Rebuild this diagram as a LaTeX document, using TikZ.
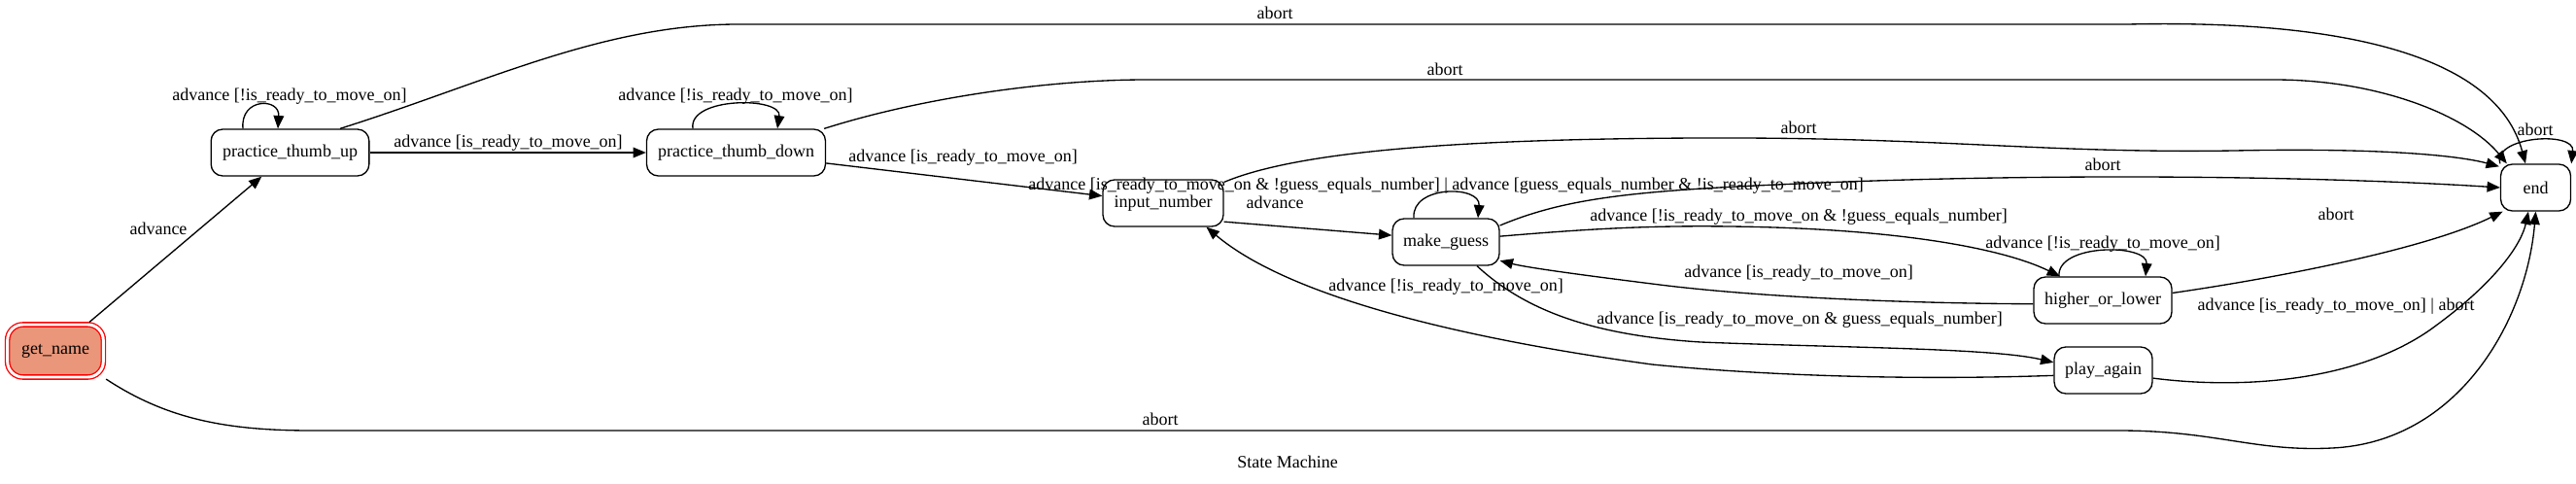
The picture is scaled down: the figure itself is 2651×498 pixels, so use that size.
\documentclass[tikz,border=0pt]{standalone}
\usepackage{fontspec}
\setmainfont{Liberation Serif}
\usetikzlibrary{arrows.meta,calc}

\newcommand\smfont{\fontsize{13.5}{16}\selectfont}

\tikzset{
  state/.style={draw, line width=1pt, rounded corners=9pt, minimum height=36pt, inner sep=2pt, font=\smfont},
  startstate/.style={state, draw=red, double=white, double distance=2.2pt, fill={rgb,255:red,233;green,150;blue,122},
    minimum width=74pt, minimum height=40.5pt, rounded corners=12pt},
  edge/.style={line width=1pt, -{Triangle[length=10pt,width=8pt]}},
  lbl/.style={font=\smfont, inner sep=0pt, text height=9.5pt, text depth=3pt}
}

\begin{document}
\begin{tikzpicture}[x=0.75pt,y=-0.75pt]
\useasboundingbox (0,0) rectangle (2651,498);

% states
\node[startstate] (getname) at (57,361) {get\_name};
\node[state, minimum width=122pt] (thumbup) at (298.5,157) {practice\_thumb\_up};
\node[state, minimum width=138pt] (thumbdown) at (757.5,157) {practice\_thumb\_down};
\node[state, minimum width=93pt] (inputnum) at (1197,209) {input\_number};
\node[state, minimum width=82.5pt] (makeguess) at (1488,249) {make\_guess};
\node[state, minimum width=106.5pt] (highlow) at (2164,309) {higher\_or\_lower};
\node[state, minimum width=75.75pt] (playagain) at (2164.5,381) {play\_again};
\node[state, minimum width=54pt] (endst) at (2609.5,193) {end};

% get_name
\draw[edge, shorten <=2pt] (getname) -- (thumbup);
\draw[edge, shorten <=2pt] (getname.south east) .. controls (170,430) and (230,443) .. (320,443) -- (2180,443)
  .. controls (2280,443) and (2320,465) .. (2400,461) .. controls (2530,455) and (2600,330) .. (endst.south);

% practice_thumb_up
\draw[edge] ($(thumbup.north)+(-48.5,0)$) .. controls +(-3,-32) and +(2,-32) .. ($(thumbup.north)+(-12.5,0)$);
\draw[edge] (thumbup) -- (thumbdown);
\draw[edge] ($(thumbup.north)+(51.5,0)$) .. controls (500,85) and (620,25) .. (760,25) -- (2190,25)
  .. controls (2420,20) and (2570,60) .. ($(endst.north)+(-10.5,0)$);

% practice_thumb_down
\draw[edge] ($(thumbdown.north)+(-44.5,0)$) .. controls +(-5,-33) and +(5,-33) .. ($(thumbdown.north)+(42.5,0)$);
\draw[edge] (thumbdown) -- (inputnum);
\draw[edge] ($(thumbdown.north east)+(-2,0)$) .. controls (950,100) and (1080,82) .. (1180,82) -- (2340,82)
  .. controls (2450,82) and (2540,120) .. ($(endst.north west)+(7,0)$);

% input_number
\draw[edge] (inputnum.-17) -- (makeguess.173);
\draw[edge] (inputnum.19) .. controls (1330,158) and (1480,143) .. (1750,142) .. controls (2000,141) and (2100,158) .. (2300,155)
  .. controls (2450,152) and (2530,160) .. ($(endst.north west)+(-1,3)$);

% make_guess
\draw[edge] ($(makeguess.north)+(-33,0)$) .. controls +(-3,-34) and +(3,-34) .. ($(makeguess.north)+(33,0)$);
\draw[edge] (makeguess.17) .. controls (1620,200) and (1700,195) .. (1900,187) .. controls (2150,178) and (2400,182) .. (endst.west);
\draw[edge] (makeguess.6) .. controls (1640,235) and (1700,232) .. (1780,233) .. controls (1950,235) and (2060,255) .. ($(highlow.north)+(-44,0)$);
\draw[edge] ($(makeguess.south)+(32,0)$) .. controls (1570,320) and (1640,345) .. (1750,352) .. controls (1900,358) and (2050,358) .. (playagain.171);

% higher_or_lower
\draw[edge] ($(highlow.north)+(-45,0)$) .. controls +(-3,-34) and +(3,-34) .. ($(highlow.north)+(44,0)$);
\draw[edge] (highlow.-177) .. controls (1950,312) and (1800,305) .. (1700,292) .. controls (1620,282) and (1570,275) .. (makeguess.-19);
\draw[edge] (highlow.6) .. controls (2350,285) and (2500,255) .. (endst.-144);

% play_again
\draw[edge] (playagain.186) .. controls (1950,392) and (1800,385) .. (1700,375) .. controls (1480,345) and (1320,300) .. (inputnum.-29);
\draw[edge] (playagain.-9) .. controls (2300,400) and (2420,395) .. (2500,340) .. controls (2570,290) and (2595,250) .. (endst.-107);

% end
\draw[edge] (endst.north west) .. controls +(-8,-28) and +(4,-34) .. (endst.north east);

% labels
\node[lbl] (l_gn) at (163,237) {advance};
\node[lbl] (l_gnend) at (1194,433) {abort};
\node[lbl] (l_tuloop) at (298,99) {advance [!is\_ready\_to\_move\_on]};
\node[lbl] (l_tutd) at (523,147) {advance [is\_ready\_to\_move\_on]};
\node[lbl] (l_tuend) at (1312,15) {abort};
\node[lbl] (l_tdloop) at (757,99) {advance [!is\_ready\_to\_move\_on]};
\node[lbl] (l_tdin) at (991,162) {advance [is\_ready\_to\_move\_on]};
\node[lbl] (l_tdend) at (1487,73) {abort};
\node[lbl] (l_inmg) at (1312,210) {advance};
\node[lbl] (l_inend) at (1851,133) {abort};
\node[lbl] (l_mgloop) at (1488,191) {advance [is\_ready\_to\_move\_on \& !guess\_equals\_number] | advance [guess\_equals\_number \& !is\_ready\_to\_move\_on]};
\node[lbl] (l_mgend) at (2164,171) {abort};
\node[lbl] (l_mghl) at (1851,223) {advance [!is\_ready\_to\_move\_on \& !guess\_equals\_number]};
\node[lbl] (l_mgpa) at (1852,329) {advance [is\_ready\_to\_move\_on \& guess\_equals\_number]};
\node[lbl] (l_hlloop) at (2164,251) {advance [!is\_ready\_to\_move\_on]};
\node[lbl] (l_hlmg) at (1851,281) {advance [is\_ready\_to\_move\_on]};
\node[lbl] (l_hlend) at (2404,222) {abort};
\node[lbl] (l_pain) at (1488,295) {advance [!is\_ready\_to\_move\_on]};
\node[lbl] (l_paend) at (2404,315) {advance [is\_ready\_to\_move\_on] | abort};
\node[lbl] (l_endloop) at (2609,135) {abort};
\node[lbl] (title) at (1325,477) {State Machine};

\end{tikzpicture}
\end{document}
